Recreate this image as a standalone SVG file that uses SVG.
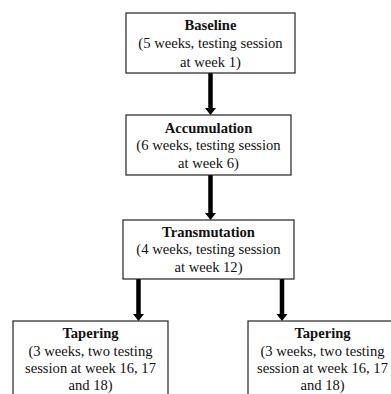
<svg xmlns="http://www.w3.org/2000/svg" width="391" height="394" viewBox="0 0 391 394">
<style>
.box{fill:#fff;stroke:#222;stroke-width:1.2}
text{font-size:14.6px;fill:#111;text-anchor:middle}
.t{font-weight:bold}
.arr{stroke:#000;stroke-width:4.5;fill:none}
</style>
<rect width="391" height="394" fill="#fff"/>
<g id="connectors">
<line class="arr" x1="210.5" y1="73" x2="210.5" y2="108"/><path d="M205,108 L216,108 L210.5,115 Z" fill="#000"/>
<line class="arr" x1="210.5" y1="175" x2="210.5" y2="213"/><path d="M205,213 L216,213 L210.5,220 Z" fill="#000"/>
<line class="arr" x1="138.5" y1="279" x2="138.5" y2="314"/><path d="M133,314 L144,314 L138.5,321 Z" fill="#000"/>
<line class="arr" x1="282" y1="279" x2="282" y2="314"/><path d="M276.5,314 L287.5,314 L282,321 Z" fill="#000"/>
</g>
<g font-family="'Liberation Serif', 'Times New Roman', Times, serif">
<g id="baseline">
<rect class="box" x="126" y="13" width="169" height="60"/>
<text class="t" x="210.5" y="30">Baseline</text>
<text x="210.5" y="48.3">(5 weeks, testing session</text>
<text x="210.5" y="66.5">at week 1)</text>
</g>
<g id="accumulation">
<rect class="box" x="126" y="115" width="165" height="60"/>
<text class="t" x="208.5" y="132.7">Accumulation</text>
<text x="208.5" y="150.3">(6 weeks, testing session</text>
<text x="208.5" y="168.3">at week 6)</text>
</g>
<g id="transmutation">
<rect class="box" x="123" y="220" width="171" height="59"/>
<text class="t" x="208.5" y="236.7">Transmutation</text>
<text x="208.5" y="254.3">(4 weeks, testing session</text>
<text x="208.5" y="272.3">at week 12)</text>
</g>
<g id="tapering-left">
<rect class="box" x="13" y="321" width="155" height="90"/>
<text class="t" x="90.5" y="338.3">Tapering</text>
<text x="90.5" y="355.5">(3 weeks, two testing</text>
<text x="90.5" y="373">session at week 16, 17</text>
<text x="90.5" y="390.3">and 18)</text>
</g>
<g id="tapering-right">
<rect class="box" x="248" y="321" width="155" height="90"/>
<text class="t" x="322.5" y="338.3">Tapering</text>
<text x="322.5" y="355.5">(3 weeks, two testing</text>
<text x="322.5" y="373">session at week 16, 17</text>
<text x="322.5" y="390.3">and 18)</text>
</g>
</g>
</svg>
